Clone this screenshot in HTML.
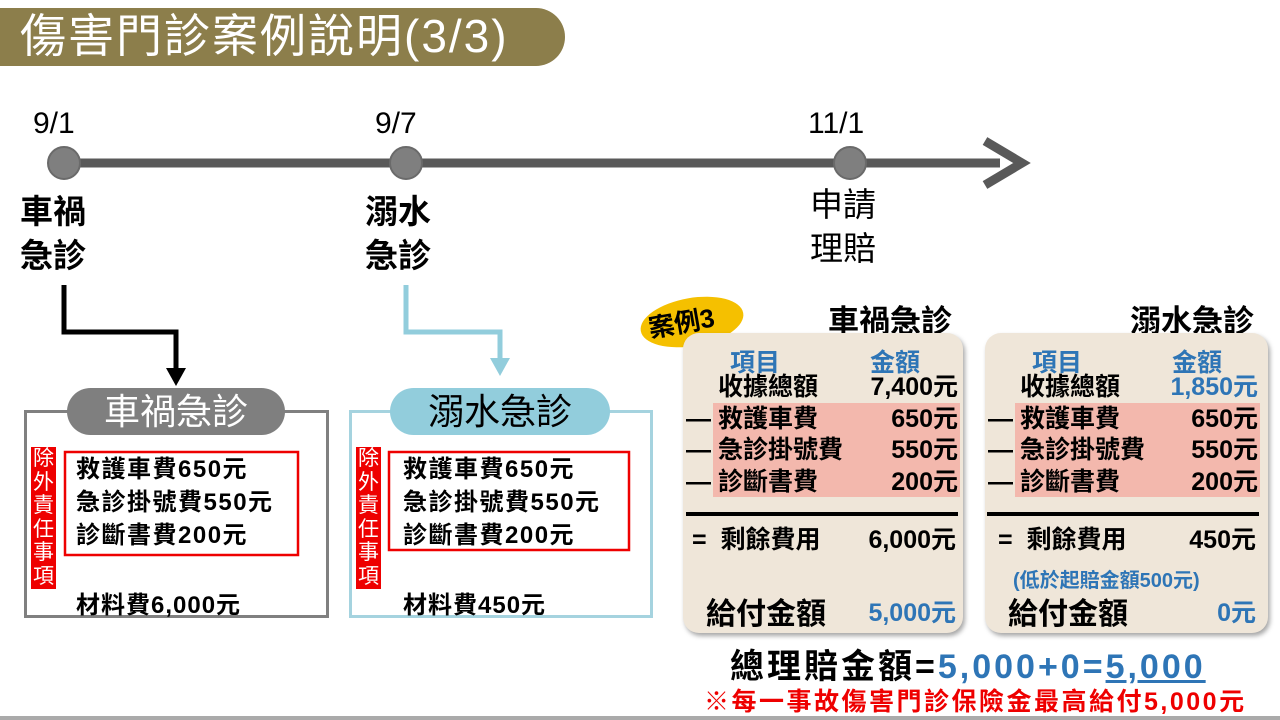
<!DOCTYPE html>
<html><head><meta charset="utf-8"><style>
body{margin:0;width:1280px;height:720px;background:#fff;position:relative;overflow:hidden;font-family:"Liberation Sans","Noto Sans CJK TC",sans-serif}
.a{position:absolute;white-space:nowrap}
.b{font-weight:bold}
.blue{color:#2e75b6}
.tbl{position:absolute;background:#efe6d9;border-radius:16px;box-shadow:2px 3px 5px rgba(0,0,0,.35)}
.pink{position:absolute;background:#f3b8ad}
</style></head><body>
<div class="a" style="left:0;top:8px;width:565px;height:58px;background:#8c7e4b;border-radius:0 30px 30px 0"></div>
<div class="a" style="left:20px;top:9px;font-size:46px;color:#fff;line-height:54px;letter-spacing:2px">傷害門診案例說明(3/3)</div>

<svg class="a" style="left:0;top:0" width="1280" height="720">
<line x1="64" y1="163" x2="1000" y2="163" stroke="#595959" stroke-width="9"/>
<polyline points="985,141 1022,163 985,185" fill="none" stroke="#595959" stroke-width="9"/>
<circle cx="64" cy="163" r="16" fill="#7f7f7f" stroke="#6a6a6a" stroke-width="2"/>
<circle cx="406" cy="163" r="16" fill="#7f7f7f" stroke="#6a6a6a" stroke-width="2"/>
<circle cx="850" cy="163" r="16" fill="#7f7f7f" stroke="#6a6a6a" stroke-width="2"/>
<polyline points="64,285 64,332 176,332 176,372" fill="none" stroke="#000" stroke-width="5"/>
<polygon points="166,368 186,368 176,386" fill="#000"/>
<polyline points="406,285 406,332 500,332 500,362" fill="none" stroke="#92cddc" stroke-width="5"/>
<polygon points="490,358 510,358 500,376" fill="#92cddc"/>
<rect x="25.5" y="411.5" width="302" height="205" fill="none" stroke="#808080" stroke-width="3"/>
<rect x="350.5" y="411.5" width="301" height="205" fill="none" stroke="#a5d3df" stroke-width="3"/>
<rect x="65" y="452" width="233" height="103" fill="none" stroke="#e00" stroke-width="2.5"/>
<rect x="389" y="452" width="240" height="98" fill="none" stroke="#e00" stroke-width="2.5"/>
<ellipse cx="692" cy="322" rx="52" ry="24" fill="#f5c000" transform="rotate(-10 692 322)"/>
</svg>

<div class="a" style="left:33px;top:107px;font-size:30px">9/1</div>
<div class="a" style="left:375px;top:107px;font-size:30px">9/7</div>
<div class="a" style="left:808px;top:107px;font-size:30px">11/1</div>
<div class="a b" style="left:20px;top:190px;font-size:33px;line-height:44px">車禍<br>急診</div>
<div class="a b" style="left:365px;top:190px;font-size:33px;line-height:44px">溺水<br>急診</div>
<div class="a" style="left:810px;top:183px;font-size:33px;line-height:44px">申請<br>理賠</div>

<div class="a" style="left:67px;top:388px;width:218px;height:47px;border-radius:24px;background:#7f7f7f;color:#fff;font-size:36px;text-align:center;line-height:47px">車禍急診</div>
<div class="a" style="left:390px;top:388px;width:220px;height:47px;border-radius:24px;background:#92cddc;color:#000;font-size:36px;text-align:center;line-height:47px">溺水急診</div>

<div class="a" style="left:31px;top:447px;width:25px;height:142px;background:#e00;color:#fff;font-size:21px;line-height:23.5px;text-align:center;white-space:normal">除外責任事項</div>
<div class="a" style="left:356px;top:447px;width:25px;height:142px;background:#e00;color:#fff;font-size:21px;line-height:23.5px;text-align:center;white-space:normal">除外責任事項</div>
<div class="a b" style="left:76px;top:453px;font-size:24px;line-height:33px;letter-spacing:1.5px">救護車費650元<br>急診掛號費550元<br>診斷書費200元</div>
<div class="a b" style="left:403px;top:453px;font-size:24px;line-height:33px;letter-spacing:1.5px">救護車費650元<br>急診掛號費550元<br>診斷書費200元</div>
<div class="a b" style="left:76px;top:585px;font-size:24px;letter-spacing:1px">材料費6,000元</div>
<div class="a b" style="left:403px;top:585px;font-size:24px;letter-spacing:1px">材料費450元</div>

<div class="a b" style="left:648px;top:303px;font-size:26px;transform:rotate(-10deg)">案例3</div>
<div class="a b" style="left:828px;top:296px;font-size:31px">車禍急診</div>
<div class="a b" style="left:1130px;top:296px;font-size:31px">溺水急診</div>

<div class="tbl" style="left:683px;top:333px;width:280px;height:300px"></div>
<div class="tbl" style="left:985px;top:333px;width:283px;height:300px"></div>
<div class="pink" style="left:713px;top:403px;width:247px;height:94px"></div>
<div class="pink" style="left:1015px;top:403px;width:245px;height:94px"></div>
<div class="a" style="left:686px;top:512px;width:272px;height:4px;background:#000"></div>
<div class="a" style="left:987px;top:512px;width:272px;height:4px;background:#000"></div>

<div class="a b blue" style="left:730px;top:343px;font-size:25px">項目</div>
<div class="a b blue" style="left:870px;top:343px;font-size:25px">金額</div>
<div class="a b blue" style="left:1032px;top:343px;font-size:25px">項目</div>
<div class="a b blue" style="left:1172px;top:343px;font-size:25px">金額</div>

<div class="a b" style="left:686px;top:372px;font-size:25px;line-height:31.5px">　 收據總額<br>— 救護車費<br>— 急診掛號費<br>— 診斷書費</div>
<div class="a b" style="left:760px;top:372px;width:198px;text-align:right;font-size:25px;line-height:31.5px">7,400元<br>650元<br>550元<br>200元</div>
<div class="a b" style="left:988px;top:372px;font-size:25px;line-height:31.5px">　 收據總額<br>— 救護車費<br>— 急診掛號費<br>— 診斷書費</div>
<div class="a b" style="left:1060px;top:372px;width:198px;text-align:right;font-size:25px;line-height:31.5px"><span class="blue">1,850元</span><br>650元<br>550元<br>200元</div>

<div class="a b" style="left:692px;top:520px;font-size:25px">=&nbsp; 剩餘費用</div>
<div class="a b" style="left:760px;top:520px;width:196px;text-align:right;font-size:25px">6,000元</div>
<div class="a b" style="left:998px;top:520px;font-size:25px">=&nbsp; 剩餘費用</div>
<div class="a b" style="left:1060px;top:520px;width:196px;text-align:right;font-size:25px">450元</div>
<div class="a b blue" style="left:1013px;top:564px;font-size:20px">(低於起賠金額500元)</div>

<div class="a b" style="left:706px;top:589px;font-size:30px">給付金額</div>
<div class="a b blue" style="left:760px;top:593px;width:196px;text-align:right;font-size:25px">5,000元</div>
<div class="a b" style="left:1008px;top:589px;font-size:30px">給付金額</div>
<div class="a b blue" style="left:1060px;top:593px;width:196px;text-align:right;font-size:25px">0元</div>

<div class="a b" style="left:730px;top:639px;font-size:34px;letter-spacing:3px">總理賠金額=<span class="blue">5,000+0=<span style="text-decoration:underline">5,000</span></span></div>
<div class="a b" style="left:704px;top:682px;font-size:25px;color:#e00;letter-spacing:2.5px">※每一事故傷害門診保險金最高給付5,000元</div>
<div class="a" style="left:0;top:716px;width:1280px;height:4px;background:#aaa"></div>
</body></html>
